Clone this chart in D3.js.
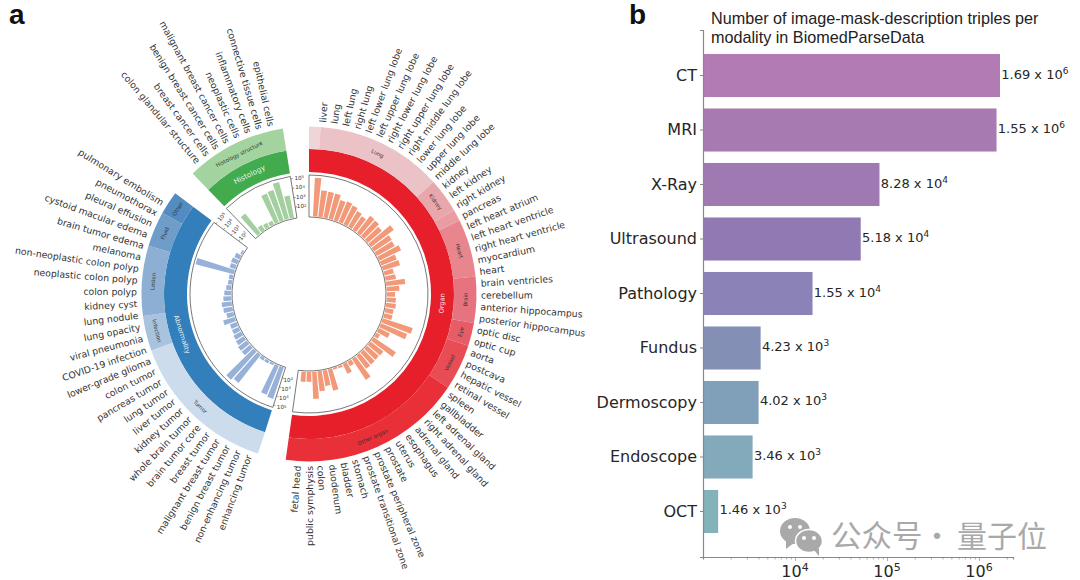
<!DOCTYPE html>
<html><head><meta charset="utf-8">
<script src="https://cdn.jsdelivr.net/npm/d3@7"></script>
<style>
html,body{margin:0;padding:0;background:#fff;}
svg{display:block;}
text{font-family:"DejaVu Sans",sans-serif;}
</style></head>
<body><svg id="c" width="1080" height="580"></svg>
<script>
// ---------- data, panel a ----------
const organLabels = ["liver","lung","left lung","right lung","left lower lung lobe","left upper lung lobe","right lower lung lobe","right upper lung lobe","right middle lung lobe","lower lung lobe","upper lung lobe","middle lung lobe","kidney","left kidney","right kidney","pancreas","left heart atrium","left heart ventricle","right heart ventricle","myocardium","heart","brain ventricles","cerebellum","anterior hippocampus","posterior hippocampus","optic disc","optic cup","aorta","postcava","hepatic vessel","retinal vessel","spleen","gallbladder","left adrenal gland","right adrenal gland","adrenal gland","esophagus","uterus","prostate","prostate peripheral zone","prostate transitional zone","stomach","bladder","duodenum","colon","public symphysis","fetal head"];
const organValues = [95000,5600,4800,4600,1440,1830,1340,695,430,1580,1370,785,8650,1440,1190,2980,460,615,86,108,845,183,62,79,89,62,65,17000,7850,162,23,5600,430,370,417,430,3800,30,113,14,13,1660,390,1050,6100,93,100];
const abnormalLabels = ["enhancing tumor","non-enhancing tumor","benign breast tumor","malignant breast tumor","breast tumor","brain tumor core","whole brain tumor","kidney tumor","liver tumor","lung tumor","pancreas tumor","colon tumor","lower-grade glioma","COVID-19 infection","viral pneumonia","lung opacity","lung nodule","kidney cyst","colon polyp","neoplastic colon polyp","non-neoplastic colon polyp","melanoma","brain tumor edema","cystoid macular edema","pleural effusion","pneumothorax","pulmonary embolism"];
const abnormalValues = [26500,17500,14,17,18,48000,88000,116,113,79,66,48,47,158,48,77,95,57,45,30,22,22,120000,36,42,32,13];
const histologyLabels = ["colon glandular structure","breast cancer cells","benign breast cancer cells","malignant breast cancer cells","neoplastic cells","inflammatory cells","connective tissue cells","epithelial cells"];
const histologyValues = [3520,35,28,23,16300,20700,88000,2020];
const organGroups = ["","Lung","Kidney","","Heart","Brain","Eye","Vessel","Other organ"];
const organGroupCounts = [1,11,3,1,5,4,2,4,16];
const organGroupColors = ["#efd5d7","#ebc2c5","#e8a7ac","#e99da2","#e8858d","#e67380","#e65d68","#e84c54","#e92f38"];
const abnormalGroups = ["Tumor","Infection","Lesion","Fluid","Other"];
const abnormalGroupCounts = [13,3,6,3,2];
const abnormalGroupColors = ["#cddcec","#a9c3de","#8cafd3","#6f9dc9","#528cc0"];
const histologyGroups = ["Histology structure"];
const histologyGroupCounts = [8];
const histologyGroupColors = ["#a3d39f"];
const radialTicks = [100,1000,10000,100000];

// ---------- data, panel b ----------
const modalities = ["CT","MRI","X-Ray","Ultrasound","Pathology","Fundus","Dermoscopy","Endoscope","OCT"];
const modalityValues = [1.69e6,1.55e6,8.28e4,5.18e4,1.55e4,4.23e3,4.02e3,3.46e3,1.46e3];
const modalityMantissa = ["1.69","1.55","8.28","5.18","1.55","4.23","4.02","3.46","1.46"];
const modalityExponent = ["6","6","4","4","4","3","3","3","3"];
const modalityColors = ["#b27bb4","#a77ab2","#9f79b2","#917ab4","#8b82b7","#838fb5","#80a0ba","#82aaba","#82b2ba"];
const xMajor = [1e4,1e5,1e6];
const xMinor = [2e3,3e3,4e3,5e3,6e3,7e3,8e3,9e3,2e4,3e4,4e4,5e4,6e4,7e4,8e4,9e4,2e5,3e5,4e5,5e5,6e5,7e5,8e5,9e5,2e6];

// ---------- layout ----------
const svg = d3.select("#c");
const rad = d => d*Math.PI/180;
const cx = 309, cy = 294;
const R = {frameIn:77, frameOut:119, main0:122, main1:145, sub1:167.5, label:172};
const rScale = d3.scaleLog().domain([100,100000]).range([88,116.5]);
const slot = 3.9, barW = 3.2;
const pol = (r,a)=>[r*Math.sin(rad(a)), -r*Math.cos(rad(a))];
const arc = d3.arc();
const g = svg.append("g").attr("transform",`translate(${cx},${cy})`);

const sectors = [
 {name:"Organ",start:0,end:188,first:4.5,labels:organLabels,values:organValues,groups:organGroups,counts:organGroupCounts,gcolors:organGroupColors,main:"#e71f2a",bar:"#f2997a"},
 {name:"Abnormality",start:197.7,end:307,first:200.5,labels:abnormalLabels,values:abnormalValues,groups:abnormalGroups,counts:abnormalGroupCounts,gcolors:abnormalGroupColors,main:"#337fbb",bar:"#98b1d9"},
 {name:"Histology",start:316,end:351,first:320,labels:histologyLabels,values:histologyValues,groups:histologyGroups,counts:histologyGroupCounts,gcolors:histologyGroupColors,main:"#41ab4d",bar:"#a4cf9f"}
];

function flip(a){ return a>90 && a<270 ? a-180 : (a>=270 ? a-360 : a); }

sectors.forEach(s=>{
  const angle = d3.scaleLinear().domain([0,d3.sum(s.counts)]).range([s.start,s.end]);
  g.append("path").attr("d",arc({innerRadius:R.main0,outerRadius:R.main1,startAngle:rad(s.start),endAngle:rad(s.end)})).attr("fill",s.main);
  let c = 0;
  s.counts.forEach((n,i)=>{
    const a0 = angle(c), a1 = angle(c+n); c += n;
    g.append("path").attr("d",arc({innerRadius:R.main1,outerRadius:R.sub1,startAngle:rad(a0),endAngle:rad(a1)})).attr("fill",s.gcolors[i]);
    if(s.groups[i]){
      const m=(a0+a1)/2, p=pol(156.5,m);
      g.append("text").attr("transform",`translate(${p[0]},${p[1]}) rotate(${flip(m)})`)
        .attr("text-anchor","middle").attr("dominant-baseline","central")
        .attr("font-size",5.4).attr("fill","#333").text(s.groups[i]);
    }
  });
  const m=(s.start+s.end)/2, p=pol(133.5,m);
  g.append("text").attr("transform",`translate(${p[0]},${p[1]}) rotate(${flip(m)})`)
    .attr("text-anchor","middle").attr("dominant-baseline","central")
    .attr("font-size",s.name==="Histology"?7.3:6.6).attr("fill","#fff").attr("fill-opacity",.9).text(s.name);
  g.append("path").attr("d",arc({innerRadius:R.frameIn,outerRadius:R.frameOut,startAngle:rad(s.start),endAngle:rad(s.end)}))
    .attr("fill","none").attr("stroke","#555").attr("stroke-width",.8);
  s.values.forEach((v,i)=>{
    const a = s.first + slot*i;
    g.append("path").attr("d",arc({innerRadius:R.frameIn+.8,outerRadius:rScale(v),startAngle:rad(a-barW/2),endAngle:rad(a+barW/2)})).attr("fill",s.bar);
    const q = pol(R.label,a);
    const right = a<179;
    g.append("text").attr("transform",`translate(${q[0]},${q[1]}) rotate(${right?a-90:a-270})`)
      .attr("text-anchor",right?"start":"end").attr("dominant-baseline","central")
      .attr("font-size",9.3).attr("fill","#333").text(s.labels[i]);
  });
});

function radialTickSet(edge,dir,labelAngle,rot){
  radialTicks.forEach(t=>{
    const r=rScale(t);
    const a=pol(r,edge);
    const tx=Math.cos(rad(edge))*dir*2, ty=Math.sin(rad(edge))*dir*2;
    g.append("line").attr("x1",a[0]).attr("y1",a[1]).attr("x2",a[0]+tx).attr("y2",a[1]+ty).attr("stroke","#555").attr("stroke-width",.6);
    const p=pol(r,labelAngle);
    const txt=g.append("text").attr("transform",`translate(${p[0]},${p[1]}) rotate(${rot})`)
      .attr("text-anchor","middle").attr("dominant-baseline","central").attr("font-size",5.6).attr("fill","#333");
    txt.append("tspan").text("10");
    txt.append("tspan").attr("dy",-1.6).attr("font-size",3.8).text(String(Math.round(Math.log10(t))));
  });
}
radialTickSet(351,1,355.2,0);
radialTickSet(197.7,-1,193.6,0);
radialTickSet(307,1,311.4,-48);

// ---------- panel b ----------
const x = d3.scaleLog().domain([1000,2.34e6]).range([703,1013]);
const y = d3.scaleBand().domain(modalities).range([30,557]).paddingInner(.21).paddingOuter(.44);

svg.selectAll("rect.m").data(modalities).join("rect").attr("class","m")
  .attr("x",x.range()[0]).attr("y",d=>y(d)).attr("height",y.bandwidth())
  .attr("width",(d,i)=>x(modalityValues[i])-x.range()[0]).attr("fill",(d,i)=>modalityColors[i]);

const ax = svg.append("g").attr("transform","translate(703,0)").call(d3.axisLeft(y).tickSize(3).tickPadding(3));
ax.select(".domain").attr("stroke","#888").attr("stroke-width",1.2);
ax.selectAll(".tick line").attr("stroke","#888");
ax.selectAll(".tick text").attr("font-family","DejaVu Sans").attr("font-size",16).attr("fill","#262626");

const bx = svg.append("g").attr("transform","translate(0,557)").call(d3.axisBottom(x).tickValues(xMajor.concat(xMinor)).tickSize(2.5).tickFormat(""));
bx.select(".domain").attr("stroke","#888").attr("stroke-width",1.2);
bx.selectAll(".tick line").attr("stroke","#888").attr("stroke-width",.7);
bx.selectAll(".tick").filter(d=>xMajor.includes(d)).select("line").attr("y2",4);
xMajor.forEach(v=>{
  const t=svg.append("text").attr("x",x(v)).attr("y",577).attr("text-anchor","middle").attr("font-size",16).attr("fill","#262626");
  t.append("tspan").text("10");
  t.append("tspan").attr("dy",-6).attr("font-size",11).text(String(Math.round(Math.log10(v))));
});

modalities.forEach((d,i)=>{
  const t=svg.append("text").attr("x",x(modalityValues[i])+1.3).attr("y",y(d)+y.bandwidth()/2+3).attr("font-size",13).attr("fill","#262626");
  t.append("tspan").text(modalityMantissa[i]+" x 10");
  t.append("tspan").attr("dy",-5).attr("font-size",9).text(modalityExponent[i]);
});

svg.append("text").attr("x",711).attr("y",24).attr("font-size",16.2).attr("style","font-family:'Liberation Sans'").attr("fill","#222").text("Number of image-mask-description triples per");
svg.append("text").attr("x",711).attr("y",43).attr("font-size",16.2).attr("style","font-family:'Liberation Sans'").attr("fill","#222").text("modality in BiomedParseData");

svg.append("text").attr("x",9).attr("y",24).attr("font-size",28).attr("font-weight","bold").attr("style","font-family:'Liberation Sans'").attr("fill","#111").text("a");
svg.append("text").attr("x",629).attr("y",24).attr("font-size",28).attr("font-weight","bold").attr("style","font-family:'Liberation Sans'").attr("fill","#111").text("b");

const wm = svg.append("g").attr("fill","#a9a9a9");
wm.append("ellipse").attr("cx",795).attr("cy",531).attr("rx",15).attr("ry",13);
wm.append("path").attr("d","M786 541 l0 8 l8 -6 z");
wm.append("ellipse").attr("cx",809).attr("cy",541).attr("rx",13.5).attr("ry",11.5).attr("stroke","#fff").attr("stroke-width",1.5);
wm.append("path").attr("d","M814 550 l5 6 l0 -8 z");
[[790,527],[800,527],[804,538],[814,538]].forEach(p=>wm.append("circle").attr("cx",p[0]).attr("cy",p[1]).attr("r",2).attr("fill","#fff"));
svg.append("text").attr("x",831).attr("y",547).attr("font-size",30.5).attr("style","font-family:'Noto Sans CJK SC'").attr("fill","#a9a9a9").text("公众号");
svg.append("text").attr("x",937).attr("y",547).attr("text-anchor","middle").attr("font-size",30).attr("style","font-family:'Noto Sans CJK SC'").attr("fill","#a9a9a9").text("·");
svg.append("text").attr("x",957).attr("y",547).attr("font-size",30).attr("style","font-family:'Noto Sans CJK SC'").attr("fill","#a9a9a9").text("量子位");
</script></body></html>
